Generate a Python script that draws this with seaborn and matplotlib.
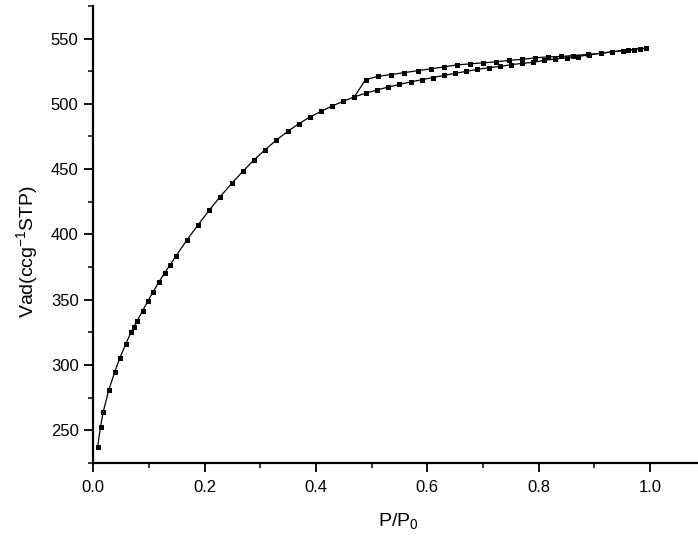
import matplotlib
matplotlib.use("Agg")
import matplotlib.pyplot as plt
from matplotlib.ticker import MultipleLocator
import seaborn as sns
import pandas as pd

# Nitrogen adsorption branch (relative pressure, adsorbed volume)
ads_p = [0.0079, 0.0133, 0.0180, 0.0282, 0.0385, 0.0480, 0.0583, 0.0678, 0.0732,
         0.0786, 0.0888, 0.0983, 0.1079, 0.1181, 0.1284, 0.1384, 0.1487, 0.1685,
         0.1883, 0.2086, 0.2283, 0.2488, 0.2686, 0.2884, 0.3087, 0.3290, 0.3495,
         0.3693, 0.3896, 0.4090, 0.4292, 0.4489, 0.4688, 0.4903, 0.5100, 0.5300,
         0.5500, 0.5700, 0.5904, 0.6100, 0.6305, 0.6500, 0.6700, 0.6900, 0.7110,
         0.7310, 0.7510, 0.7700, 0.7905, 0.8100, 0.8300, 0.8500, 0.8700, 0.8900,
         0.9110, 0.9310, 0.9510, 0.9600, 0.9710, 0.9810, 0.9925]
ads_v = [237.2, 252.7, 264.0, 281.1, 294.3, 305.5, 315.7, 325.0, 329.3,
         333.4, 341.5, 349.0, 356.1, 363.6, 370.5, 376.8, 383.5, 395.8,
         407.3, 418.6, 429.0, 439.0, 448.2, 456.9, 464.8, 472.3, 478.9,
         484.8, 490.0, 494.2, 498.4, 501.9, 505.3, 508.3, 510.6, 512.9,
         514.9, 516.8, 518.5, 520.1, 521.8, 523.4, 524.9, 526.4, 527.7,
         528.7, 530.0, 531.0, 531.8, 533.3, 534.4, 535.2, 536.2, 537.5,
         538.7, 539.8, 540.8, 541.0, 541.6, 542.1, 542.6]

# Desorption branch, from saturation back down to hysteresis closure
des_p = [0.9925, 0.9710, 0.9510, 0.9310, 0.9110, 0.8890, 0.8620, 0.8400, 0.8163,
         0.7936, 0.7702, 0.7468, 0.7228, 0.6994, 0.6760, 0.6526, 0.6293, 0.6066,
         0.5825, 0.5586, 0.5350, 0.5120, 0.4890, 0.4688]
des_v = [542.6, 541.6, 540.8, 539.8, 538.7, 537.9, 537.0, 536.3, 536.0,
         535.2, 534.1, 533.3, 532.1, 531.4, 530.6, 529.8, 528.3, 526.8,
         525.4, 523.9, 522.4, 521.1, 518.5, 505.3]

x_ticks = [0.0, 0.2, 0.4, 0.6, 0.8, 1.0]
y_ticks = [250, 300, 350, 400, 450, 500, 550]

sns.set_theme(style="ticks")
plt.rcParams["font.family"] = ["Liberation Sans", "DejaVu Sans"]
plt.rcParams["mathtext.default"] = "regular"

fig = plt.figure(figsize=(6.98, 5.40), dpi=100)
ax = fig.add_axes([0.1335, 0.143, 0.8665, 0.846])

ads = pd.DataFrame({"p": ads_p, "v": ads_v})
des = pd.DataFrame({"p": des_p, "v": des_v})
line_kw = dict(x="p", y="v", color="black", linewidth=0.9, marker="s",
               markersize=3.6, markeredgewidth=0, estimator=None, sort=False, ax=ax)
sns.lineplot(data=ads, **line_kw)
sns.lineplot(data=des, **line_kw)

ax.set_xlim(0.0, 1.086)
ax.set_ylim(225, 575)
ax.set_xticks(x_ticks)
ax.set_yticks(y_ticks)
ax.set_xticklabels([f"{t:.1f}" for t in x_ticks])
ax.set_yticklabels([str(t) for t in y_ticks])
ax.xaxis.set_minor_locator(MultipleLocator(0.1))
ax.yaxis.set_minor_locator(MultipleLocator(25))

sns.despine(ax=ax)
for side in ("left", "bottom"):
    ax.spines[side].set_linewidth(1.6)
    ax.spines[side].set_color("black")
ax.tick_params(which="major", direction="out", length=6.5, width=1.3,
               labelsize=12, colors="black", pad=4)
ax.tick_params(axis="x", which="major", pad=6)
ax.tick_params(which="minor", direction="out", length=3.8, width=1.1, colors="black")

ax.set_xlabel("")
ax.set_ylabel("")
fig.text(398 / 698, 1 - 521 / 540, "P/P$_0$", fontsize=14,
         ha="center", va="center", color="black")
fig.text(27 / 698, 1 - 252 / 540, "Vad(ccg$^{-1}$STP)", fontsize=14,
         ha="center", va="center", rotation=90, color="black")

fig.savefig("out.png", dpi=100)
